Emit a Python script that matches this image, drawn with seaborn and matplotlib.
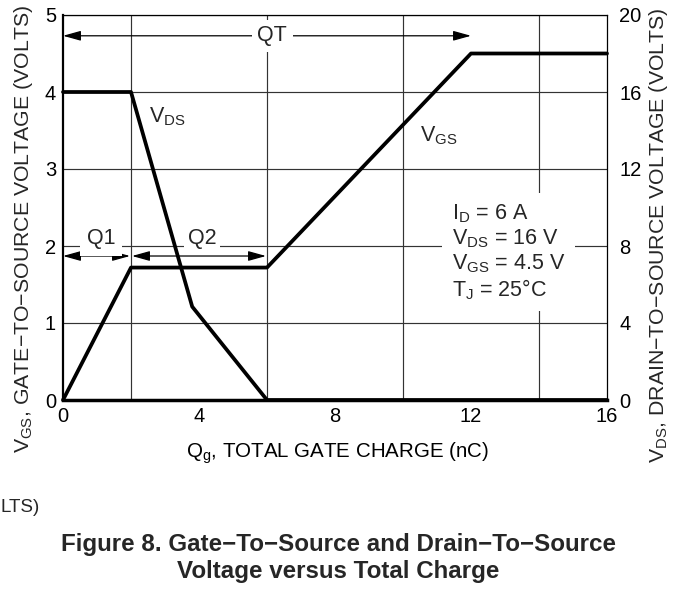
import matplotlib
matplotlib.use("Agg")
import matplotlib.pyplot as plt
import seaborn as sns

# gate charge curve data
q_vgs = [0, 2, 6, 12, 16]
vgs = [0, 1.72, 1.72, 4.5, 4.5]

q_vds = [0, 2, 3.8, 6, 16]
vds = [16, 16, 4.85, 0, 0]

x_ticks = [0, 4, 8, 12, 16]
left_ticks = [0, 1, 2, 3, 4, 5]
right_ticks = [0, 4, 8, 12, 16, 20]

# charge spans marked with arrows
qt_span = [0, 12]
q1_span = [0, 2]
q2_span = [2, 6]

sns.set_theme(style="white")
plt.rcParams["font.family"] = ["Liberation Sans", "DejaVu Sans"]
plt.rcParams["mathtext.fontset"] = "custom"
plt.rcParams["mathtext.rm"] = "Liberation Sans"
plt.rcParams["mathtext.it"] = "Liberation Sans:italic"
plt.rcParams["mathtext.bf"] = "Liberation Sans:bold"

fig = plt.figure(figsize=(6.79, 5.9), dpi=100)
fig.patch.set_facecolor("white")
ax = fig.add_axes([63 / 679, 1 - 400 / 590, 544 / 679, 385 / 590])
ax2 = ax.twinx()

ax.set_xlim(0, 16)
ax.set_ylim(0, 5)
ax2.set_ylim(0, 20)

# grid
ax.set_xticks(range(0, 17, 2), minor=True)
ax.grid(True, which="minor", axis="x", color="#333333", lw=0.85)
ax.grid(True, which="major", axis="y", color="#333333", lw=0.85)
ax.set_axisbelow(True)
ax.set_xticks(x_ticks)
ax.set_yticks(left_ticks)
ax2.set_yticks(right_ticks)
ax2.grid(False)

ax.tick_params(axis="both", which="both", length=0, labelsize=14.5, colors="black")
ax.tick_params(axis="x", pad=5)
ax.tick_params(axis="y", pad=5)
ax2.tick_params(axis="y", length=0, labelsize=14.5, colors="black", pad=9)

for side, w in [("left", 1.6), ("bottom", 2.5), ("top", 0.9), ("right", 0.9)]:
    ax.spines[side].set_linewidth(w)
    ax.spines[side].set_color("black")
for s in ax2.spines.values():
    s.set_visible(False)

sns.lineplot(x=q_vgs, y=vgs, ax=ax, color="black", lw=2.7, estimator=None,
             sort=False, clip_on=False, zorder=4)
sns.lineplot(x=q_vds, y=vds, ax=ax2, color="black", lw=2.7, estimator=None,
             sort=False, clip_on=False, zorder=4)

arrow = dict(arrowstyle="<|-|>,head_length=0.9,head_width=0.25", color="black",
             lw=0.9, shrinkA=0, shrinkB=0)

for span, yv in [(qt_span, 4.73), (q1_span, 1.87), (q2_span, 1.87)]:
    ax.annotate("", xy=(span[0] + 0.03 * (span[0] > 0), yv),
                xytext=(span[1] - 0.03 * (span[1] < 12), yv),
                arrowprops=arrow, zorder=3)

ax.text(6.15, 4.73, "QT", fontsize=15.5, ha="center", va="center",
        bbox=dict(facecolor="white", edgecolor="none", pad=4), zorder=3.5)
ax.text(1.12, 2.1, "Q1", fontsize=15.5, ha="center", va="center",
        bbox=dict(facecolor="white", edgecolor="none", pad=5), zorder=3.5)
ax.text(4.09, 2.1, "Q2", fontsize=15.5, ha="center", va="center",
        bbox=dict(facecolor="white", edgecolor="none", pad=3), zorder=3.5)

ax.text(3.06, 3.68, r"V$_{\mathrm{DS}}$", fontsize=15.5, ha="center", va="center", zorder=3.5)
ax.text(11.06, 3.43, r"V$_{\mathrm{GS}}$", fontsize=15.5, ha="center", va="center", zorder=3.5)

info = "\n".join([r"I$_{\mathrm{D}}$ = 6 A",
                  r"V$_{\mathrm{DS}}$ = 16 V",
                  r"V$_{\mathrm{GS}}$ = 4.5 V",
                  r"T$_{\mathrm{J}}$ = 25°C"])
ax.text(11.44, 1.92, info, fontsize=15.5, ha="left", va="center", linespacing=1.12,
        bbox=dict(facecolor="white", edgecolor="none", pad=7), zorder=3.5)

ax.set_xlabel(r"Q$_{\mathrm{g}}$, TOTAL GATE CHARGE (nC)", fontsize=14.8, color="black")
ax.xaxis.set_label_coords(0.504, -0.105)

fig.text(24 / 679, 1 - 229 / 590,
         r"V$_{\mathrm{GS}}$, GATE−TO−SOURCE VOLTAGE (VOLTS)",
         rotation=90, ha="center", va="center", fontsize=15.3)
fig.text(659 / 679, 1 - 235 / 590,
         r"V$_{\mathrm{DS}}$, DRAIN−TO−SOURCE VOLTAGE (VOLTS)",
         rotation=90, ha="center", va="center", fontsize=15.3)

fig.text(0.5 / 679, 1 - 508 / 590, "LTS)", ha="left", va="center", fontsize=13.5)

fig.text(338.5 / 679, 1 - 558 / 590,
         "Figure 8. Gate−To−Source and Drain−To−Source\nVoltage versus Total Charge",
         ha="center", va="center", fontsize=17.4, fontweight="bold", linespacing=1.18)

fig.savefig("out.png", dpi=100)
